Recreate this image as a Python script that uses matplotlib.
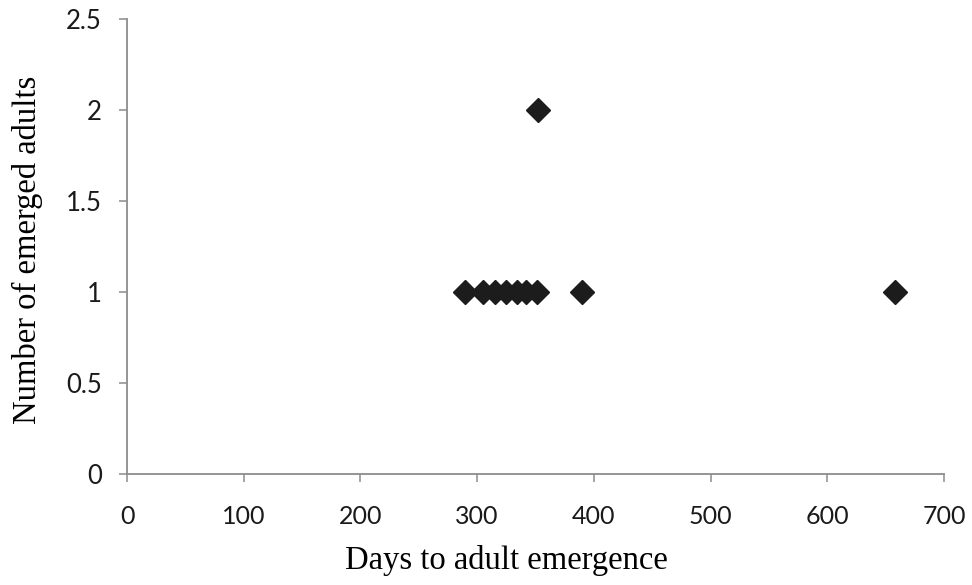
"""Scatter of days to adult emergence against number of emerged adults."""

import matplotlib

matplotlib.use("Agg")
from matplotlib import pyplot as plt

# values
days = [290, 305, 315, 325, 334, 342, 351, 390, 658, 352]
adults = [1, 1, 1, 1, 1, 1, 1, 1, 1, 2]

x_ticks = [0, 100, 200, 300, 400, 500, 600, 700]
y_ticks = [0, 0.5, 1, 1.5, 2, 2.5]
y_tick_labels = ["0", "0.5", "1", "1.5", "2", "2.5"]

AXIS_GREY = "#8c8c8c"
TICK_FONT = ["Lato", "DejaVu Sans"]
LABEL_FONT = ["Liberation Serif", "DejaVu Serif"]


def main() -> None:
    fig = plt.figure(figsize=(9.72, 5.85), dpi=100)
    ax = fig.add_axes([0.1307, 0.1897, 0.9712 - 0.1307, 0.9675 - 0.1897])

    ax.plot(days, adults, linestyle="none", marker="D", markersize=12,
            color="#1c1c1c", clip_on=False)

    ax.set_xlim(0, 700)
    ax.set_ylim(0, 2.5)
    ax.set_xticks(x_ticks)
    ax.set_yticks(y_ticks)
    ax.set_xticklabels([str(v) for v in x_ticks], family=TICK_FONT, fontsize=18)
    ax.set_yticklabels(y_tick_labels, family=TICK_FONT, fontsize=18.5)

    for side in ("top", "right"):
        ax.spines[side].set_visible(False)
    for side in ("left", "bottom"):
        ax.spines[side].set_color(AXIS_GREY)
        ax.spines[side].set_linewidth(1.3)
    ax.tick_params(direction="out", length=6, width=1.1, color=AXIS_GREY,
                   labelcolor="#1a1a1a", pad=12)
    ax.tick_params(axis="x", pad=16)

    ax.set_xlabel("Days to adult emergence", family=LABEL_FONT, fontsize=23.5)
    ax.set_ylabel("Number of emerged adults", family=LABEL_FONT, fontsize=23.5)
    # the x label sits a little left of the plot centre in the original
    ax.xaxis.set_label_coords(0.465, -0.155)
    ax.yaxis.set_label_coords(-0.103, 0.493)

    fig.savefig("out.png", dpi=100)
    plt.close(fig)


if __name__ == "__main__":
    main()
